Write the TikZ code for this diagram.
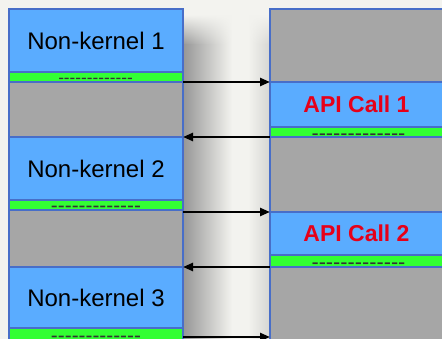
\documentclass[tikz,border=0pt]{standalone}
\usepackage{fontspec}
\setmainfont{Liberation Sans}
\usetikzlibrary{arrows.meta,fadings}

\definecolor{bgc}{RGB}{243,243,239}
\definecolor{shadowc}{RGB}{150,150,150}
\definecolor{cellfillblue}{RGB}{90,172,255}
\definecolor{cellfillgray}{RGB}{166,166,166}
\definecolor{cellfillgreen}{RGB}{51,255,51}
\definecolor{celledge}{RGB}{72,110,200}
\definecolor{apired}{RGB}{230,0,25}

% a run of separate hyphens (kerns keep them from merging into dashes)
\newcommand\hyrun{\foreach\i in {1,...,13}{-\kern0pt}}

\tikzset{
  cell/.style={draw=celledge, line width=2pt, inner sep=0pt, outer sep=0pt, anchor=north west},
  cellblue/.style={cell, fill=cellfillblue},
  cellgray/.style={cell, fill=cellfillgray},
  cellgreen/.style={cell, fill=cellfillgreen},
  leftcell/.style={minimum width=174pt},
  rightcell/.style={minimum width=173pt},
  nklabel/.style={font=\fontsize{24}{28}\selectfont, text=black},
  apilabel/.style={font=\fontsize{23}{27}\selectfont\bfseries, text=apired},
  dashtxt/.style={inner sep=0pt, anchor=base, text=black!80},
  conn/.style={line width=2.4pt, -{Triangle[length=10pt,width=8pt]}},
}

\begin{document}
\begin{tikzpicture}[x=1pt,y=-1pt]
\useasboundingbox (0,0) rectangle (442,339);
\clip (0,0) rectangle (442,339);
\fill[bgc] (0,0) rectangle (442,339);

% soft shadow in the gap between the two columns
\shade[left color=shadowc, right color=bgc] (183,45) rectangle (232,339);
\shade[left color=shadowc, right color=bgc, path fading=north] (183,15) rectangle (232,45);
\shade[left color=bgc, right color=bgc!88!black] (248,45) rectangle (270,339);
\shade[left color=bgc, right color=bgc!88!black, path fading=north] (248,15) rectangle (270,45);

% left column
\node[cellblue, leftcell, minimum height=63pt, nklabel] (nk1) at (9,9) {Non-kernel 1};
\node[cellgreen, leftcell, minimum height=10pt] (g1) at (9,72) {};
\node[cellgray, leftcell, minimum height=55pt] (gr1) at (9,82) {};
\node[cellblue, leftcell, minimum height=63pt, nklabel] (nk2) at (9,137) {Non-kernel 2};
\node[cellgreen, leftcell, minimum height=10pt] (g2) at (9,200) {};
\node[cellgray, leftcell, minimum height=57pt] (gr2) at (9,210) {};
\node[cellblue, leftcell, minimum height=61pt, nklabel] (nk3) at (9,267) {Non-kernel 3};
\node[cellgreen, leftcell, minimum height=18pt] (g3) at (9,328) {};

% right column
\node[cellgray, rightcell, minimum height=73pt] (r0) at (270,9) {};
\node[cellblue, rightcell, minimum height=45pt, apilabel] (api1) at (270,82) {API Call 1};
\node[cellgreen, rightcell, minimum height=10pt] (rg1) at (270,127) {};
\node[cellgray, rightcell, minimum height=75pt] (r1) at (270,137) {};
\node[cellblue, rightcell, minimum height=43pt, apilabel] (api2) at (270,212) {API Call 2};
\node[cellgreen, rightcell, minimum height=12pt] (rg2) at (270,255) {};
\node[cellgray, rightcell, minimum height=80pt] (r2) at (270,267) {};

% hyphen rows in the green strips
\node[dashtxt, font=\fontsize{17.2}{20}\selectfont] (d1) at (95.5,83.5) {\hyrun};
\node[dashtxt, font=\fontsize{20.8}{24}\selectfont] (d2) at (96,213) {\hyrun};
\node[dashtxt, font=\fontsize{20.8}{24}\selectfont] (d3) at (96,342) {\hyrun};
\node[dashtxt, font=\fontsize{21.7}{25}\selectfont] (d4) at (358.5,140.3) {\hyrun};
\node[dashtxt, font=\fontsize{21.7}{25}\selectfont] (d5) at (358.5,269.3) {\hyrun};

% calls and returns
\draw[conn] (g1.south east) -- (api1.north west);
\draw[conn] (rg1.south west) -- (gr1.south east);
\draw[conn] (g2.east |- api2.north west) -- (api2.north west);
\draw[conn] (rg2.south west) -- (gr2.south east);
\draw[conn] (g3.east) -- (r2.west |- g3.east);
\end{tikzpicture}
\end{document}
